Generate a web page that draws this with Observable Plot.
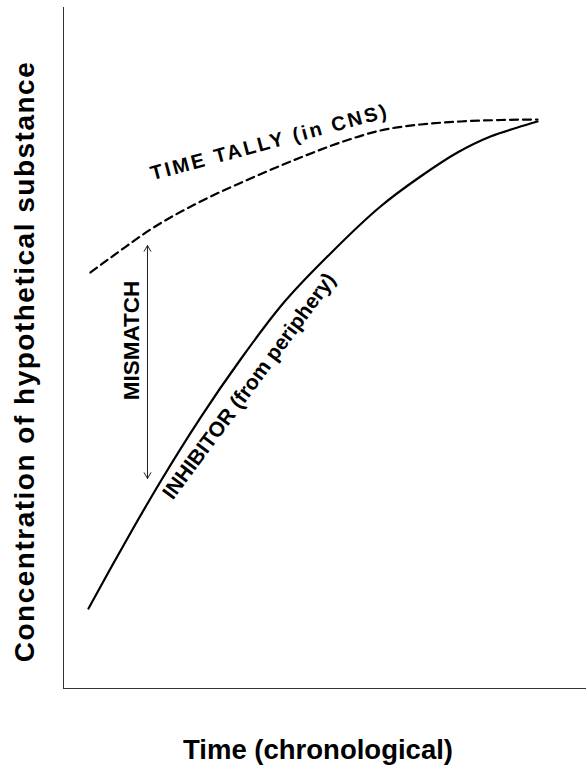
<!DOCTYPE html>
<html>
<head>
<meta charset="utf-8">
<script src="https://cdn.jsdelivr.net/npm/d3@7"></script>
<script src="https://cdn.jsdelivr.net/npm/@observablehq/plot@0.6"></script>
<style>
  body { margin: 0; background: #fff; }
  svg text { font-family: "Liberation Sans", Arial, Helvetica, sans-serif; }
</style>
</head>
<body>
<div id="chart"></div>
<script>
// Time tally (dashed) curve
const tallyX = [5.16, 10.90, 16.63, 26.20, 35.76, 45.32, 52.96, 60.61, 68.26, 75.91, 83.56, 90.63];
const tallyY = [61.09, 64.32, 67.40, 71.51, 74.89, 77.97, 80.18, 81.94, 82.82, 83.26, 83.48, 83.55];
// Inhibitor (solid) curve
const inhibX = [4.78, 8.99, 13.19, 18.55, 26.20, 33.84, 41.49, 51.05, 60.61, 68.26, 75.33, 81.64, 86.81, 90.63];
const inhibY = [11.75, 17.62, 23.35, 30.40, 39.79, 48.31, 56.09, 63.88, 70.78, 75.18, 78.71, 81.06, 82.38, 83.26];
// Mismatch double arrow
const mismatchX = 16.06;
const mismatchTop = 65.05;
const mismatchBottom = 30.84;
// Annotation labels
const labelText = ["TIME TALLY (in CNS)", "INHIBITOR (from periphery)", "MISMATCH"];
const labelX = [39.4, 35.5, 13.0];
const labelY = [80.2, 44.4, 51.1];
const labelRotate = [-15, -53.5, -90];
const labelSize = [20, 21, 22.5];
const xTitle = "Time (chronological)";
const yTitle = "Concentration of hypothetical substance";

const tally = tallyX.map((x, i) => ({x, y: tallyY[i]}));
const inhib = inhibX.map((x, i) => ({x, y: inhibY[i]}));
const mid = (mismatchTop + mismatchBottom) / 2;
const arrows = [
  {x: mismatchX, y1: mid, y2: mismatchTop},
  {x: mismatchX, y1: mid, y2: mismatchBottom}
];
const labels = labelText.map((t, i) => ({text: t, x: labelX[i], y: labelY[i], rotate: labelRotate[i], size: labelSize[i]}));

const font = "Liberation Sans, Arial, Helvetica, sans-serif";

const chart = Plot.plot({
  width: 586,
  height: 773,
  marginLeft: 63,
  marginRight: 0,
  marginTop: 7,
  marginBottom: 85,
  x: {domain: [0, 100], axis: null},
  y: {domain: [0, 100], axis: null},
  style: {background: "white", fontFamily: font, color: "black"},
  marks: [
    Plot.ruleX([0], {stroke: "#333", strokeWidth: 1}),
    Plot.ruleY([0], {stroke: "#333", strokeWidth: 1}),
    Plot.line(tally, {x: "x", y: "y", stroke: "black", strokeWidth: 2.2, strokeDasharray: "8,5", curve: "monotone-x"}),
    Plot.line(inhib, {x: "x", y: "y", stroke: "black", strokeWidth: 2.2, curve: "monotone-x"}),
    Plot.arrow(arrows, {x1: "x", x2: "x", y1: "y1", y2: "y2", stroke: "#222", strokeWidth: 1, headLength: 10, headAngle: 60}),
    ...labels.map(d => Plot.text([d], {
      x: "x", y: "y", text: "text", rotate: d.rotate, fontSize: d.size,
      fontWeight: "bold", fill: "black", textAnchor: "middle"
    })),
    Plot.text([yTitle], {frameAnchor: "left", textAnchor: "middle", dx: -38, dy: 13.5, rotate: -90, fontSize: 28, fontWeight: "bold", fill: "black"}),
    Plot.text([xTitle], {frameAnchor: "bottom", textAnchor: "middle", dx: -7, dy: 70, fontSize: 27.5, fontWeight: "bold", fill: "black"})
  ]
});

document.getElementById("chart").appendChild(chart);
d3.select(chart).selectAll("text")
  .filter(function() { return this.textContent.startsWith("TIME TALLY"); })
  .style("letter-spacing", "2.5px");
d3.select(chart).selectAll("text")
  .filter(function() { return this.textContent.startsWith("Concentration"); })
  .style("letter-spacing", "1.5px");
</script>
</body>
</html>
